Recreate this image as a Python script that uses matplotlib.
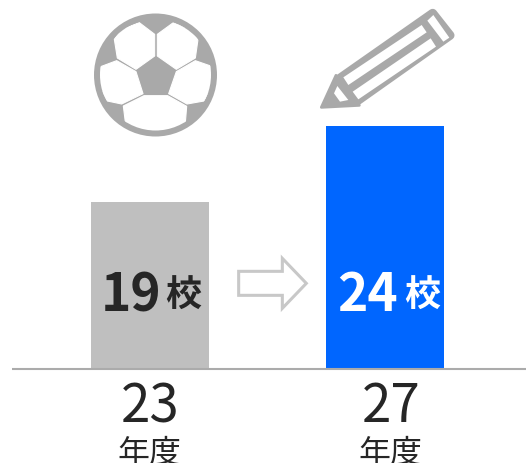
import matplotlib
matplotlib.use("Agg")
import matplotlib.pyplot as plt
from matplotlib.patches import Polygon, Circle

plt.rcParams['font.family'] = ['Noto Sans CJK JP', 'DejaVu Sans']

fiscal_years = ['23', '27']
year_unit = '年度'
school_counts = ['19', '24']
count_unit = '校'
bar_heights_px = [167, 243]   # drawn heights are not proportional in the source picture
bar_colors = ['#bfbfbf', '#0066ff']
count_colors = ['#262626', '#ffffff']

W, H = 531, 463
fig = plt.figure(figsize=(W / 100, H / 100), dpi=100)

# bar axes: y = 0 on the baseline, 1 unit = 1 px; categories 235 px apart
BASE = 368.5
ax = fig.add_axes([0, 0, 1, 1])
ax.set_xlim(-150 / 235, (W - 150) / 235)
ax.set_ylim(BASE - H, BASE)
ax.axis('off')
xs = range(len(fiscal_years))
ax.bar(xs, bar_heights_px, width=118 / 235, color=bar_colors, linewidth=0, zorder=2)
ax.hlines(0, -138 / 235, (526 - 150) / 235, color='#ababab', linewidth=1.5, zorder=3)

# pixel overlay for the icons and labels
ov = fig.add_axes([0, 0, 1, 1])
ov.set_xlim(0, W)
ov.set_ylim(H, 0)
ov.axis('off')
ov.patch.set_alpha(0)

GREY = '#a9a9a9'

def z1(pts):
    return [(x / 3 + 80, y / 3) for x, y in pts]

def z2(pts):
    return [(x / 3 + 310, y / 3) for x, y in pts]

# football
ov.add_patch(Circle((155.5, 75), 61.5, fc=GREY, ec='none'))
clip = Circle((155.5, 75), 55.5, transform=ov.transData)
panels = [
    [(178, 68), (224, 103), (224, 168), (168, 208), (112, 174), (103, 118), (125, 88)],
    [(280, 68), (232, 103), (232, 168), (289, 208), (346, 174), (354, 118), (332, 88)],
    [(110, 182), (168, 215), (189, 281), (125, 312), (82, 303), (55, 255), (62, 200)],
    [(346, 182), (289, 215), (266, 281), (321, 312), (372, 303), (400, 255), (392, 198)],
    [(192, 287), (263, 287), (320, 319), (316, 368), (290, 400), (165, 400), (136, 366), (130, 318)],
]
for p in panels:
    patch = Polygon(z1(p), fc='white', ec='white', lw=0.8, joinstyle='round')
    ov.add_patch(patch)
    patch.set_clip_path(clip)

# pencil
body = [(88, 236), (368, 40), (420, 106), (140, 304)]
ov.add_patch(Polygon(z2(body), fc=GREY, ec=GREY, lw=6.5, joinstyle='round'))
tip = [(34, 322), (78, 226), (148, 316)]
ov.add_patch(Polygon(z2(tip), fc=GREY, ec=GREY, lw=2, joinstyle='round'))
cells = [
    [(100, 232), (335, 75), (350, 97), (115, 255)],
    [(128, 275), (362, 115), (378, 140), (145, 298)],
    [(352, 62), (370, 45), (418, 113), (400, 125)],
    [(82, 258), (115, 300), (90, 305), (72, 280)],
]
for c in cells:
    ov.add_patch(Polygon(z2(c), fc='white', ec='none'))

# arrow
arrow = [(476, 94), (607, 94), (607, 55), (679, 130), (607, 205), (607, 166), (476, 166)]
ov.add_patch(Polygon([(x / 3 + 80, y / 3 + 240) for x, y in arrow],
                     fc='white', ec='#c8c8c8', lw=2.2, joinstyle='miter'))

# labels
for i, (n, col) in enumerate(zip(school_counts, count_colors)):
    dx = 235 * i
    ov.text(131 + dx + (2 if i else 0), 290, n, ha='center', va='center_baseline', fontsize=37,
            fontweight='bold', color=col)
    ov.text(183 + dx + (4 if i else 0), 292, count_unit, ha='center', va='center_baseline', fontsize=26,
            fontweight='bold', color=col)
for i, y in enumerate(fiscal_years):
    dx = 241 * i
    ov.text(150 + dx, 401, y, ha='center', va='center_baseline', fontsize=38, color='#262626')
    ov.text(149 + dx, 451, year_unit, ha='center', va='center_baseline', fontsize=23, color='#262626')

fig.savefig('out.png', dpi=100, facecolor='white')
